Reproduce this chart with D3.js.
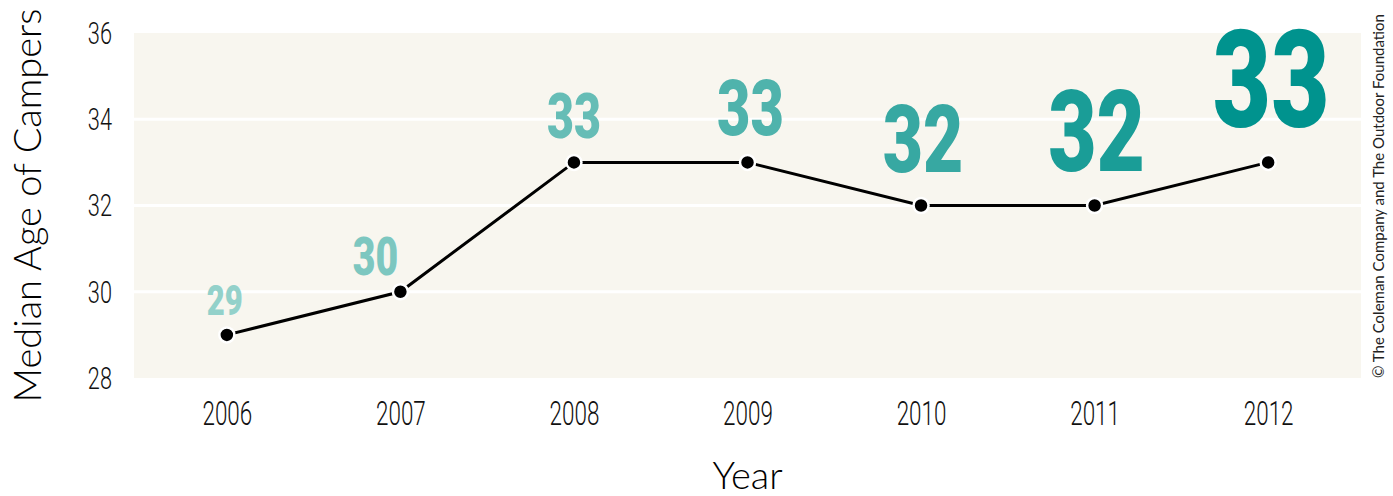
<!DOCTYPE html>
<html>
<head>
    <script src="https://d3js.org/d3.v7.min.js"></script>
    <style>
        body { margin: 0; background: #fff; }
    </style>
</head>
<body>
    <svg width="1393" height="496"></svg>
    <script>

        // data
        var years = ["2006", "2007", "2008", "2009", "2010", "2011", "2012"];
        var medianAge = [29, 30, 33, 33, 32, 32, 33];
        var yTicks = [28, 30, 32, 34, 36];

        // label look (grows year by year)
        var labelSizes = [42, 53, 63, 78, 94, 113, 136];
        var labelGap = [20, 17, 24, 27, 34, 35, 35];
        var labelShift = [-2, -25, 0, 3, 2, 2, 3];
        var labelColors = ["#93d1ca", "#7dc7c0", "#66bdb6", "#4fb3ac", "#37a8a2", "#1a9d97", "#00938e"];

        var svg = d3.select("svg"),
            pLeft = 134, pRight = 1361, pTop = 33, pBottom = 378;

        var x = d3.scalePoint()
                  .domain(years)
                  .range([pLeft, pRight])
                  .padding(0.535);

        var y = d3.scaleLinear()
                  .domain([28, 36])
                  .range([pBottom, pTop]);

        var cond = "Roboto, 'Noto Sans', sans-serif";
        var round = "Lato, 'Open Sans', sans-serif";

        // plot background
        svg.append("rect")
           .attr("x", pLeft).attr("y", pTop)
           .attr("width", pRight - pLeft).attr("height", pBottom - pTop)
           .attr("fill", "#f8f6ef");

        // grid
        svg.append("g")
           .selectAll("line")
           .data(yTicks.filter(function(t) { return t > 28 && t < 36; }))
           .enter().append("line")
           .attr("x1", pLeft).attr("x2", pRight)
           .attr("y1", function(d) { return y(d); })
           .attr("y2", function(d) { return y(d); })
           .attr("stroke", "#fff")
           .attr("stroke-width", 3);

        // y axis
        var yAxis = svg.append("g")
           .attr("transform", "translate(" + (pLeft - 22) + ",0)")
           .call(d3.axisLeft(y).tickValues(yTicks).tickSize(0).tickPadding(0));
        yAxis.select(".domain").remove();
        yAxis.selectAll("text")
             .attr("x", 0)
             .attr("transform", "scale(0.68,1)")
             .style("font-family", cond)
             .style("font-weight", 300)
             .style("font-size", "32px")
             .attr("fill", "#111");

        // x axis
        var xAxis = svg.append("g")
           .attr("transform", "translate(0," + pBottom + ")")
           .call(d3.axisBottom(x).tickSize(0).tickPadding(23));
        xAxis.select(".domain").remove();
        xAxis.selectAll("text")
             .attr("transform", "scale(0.66,1)")
             .style("font-family", cond)
             .style("font-weight", 300)
             .style("font-size", "34px")
             .attr("fill", "#111");

        // line
        var line = d3.line()
                     .x(function(d, i) { return x(years[i]); })
                     .y(function(d) { return y(d); });

        svg.append("path")
           .datum(medianAge)
           .attr("d", line)
           .attr("fill", "none")
           .attr("stroke", "#000")
           .attr("stroke-width", 3);

        svg.append("g")
           .selectAll("circle")
           .data(medianAge)
           .enter().append("circle")
           .attr("cx", function(d, i) { return x(years[i]); })
           .attr("cy", function(d) { return y(d); })
           .attr("r", 7.5)
           .attr("fill", "#000")
           .attr("stroke", "#fff")
           .attr("stroke-width", 2.5);

        // value labels
        svg.append("g")
           .selectAll("g")
           .data(medianAge)
           .enter().append("g")
           .attr("transform", function(d, i) {
                return "translate(" + (x(years[i]) + labelShift[i]) + "," + (y(d) - labelGap[i]) + ")";
           })
           .append("text")
           .attr("transform", "scale(0.74,1)")
           .attr("text-anchor", "middle")
           .style("font-family", cond)
           .style("font-weight", 900)
           .style("font-size", function(d, i) { return labelSizes[i] + "px"; })
           .attr("fill", function(d, i) { return labelColors[i]; })
           .text(function(d) { return d; });

        // axis titles
        svg.append("text")
           .attr("transform", "translate(41," + ((pTop + pBottom) / 2) + ") rotate(-90)")
           .attr("text-anchor", "middle")
           .style("font-family", round)
           .style("font-weight", 300)
           .style("font-size", "38px")
           .attr("fill", "#000")
           .text("Median Age of Campers");

        svg.append("text")
           .attr("x", (pLeft + pRight) / 2)
           .attr("y", 489)
           .attr("text-anchor", "middle")
           .style("font-family", round)
           .style("font-weight", 300)
           .style("font-size", "38px")
           .attr("fill", "#000")
           .text("Year");

        svg.append("text")
           .attr("transform", "translate(1384," + pBottom + ") rotate(-90)")
           .style("font-family", round)
           .style("font-size", "15px")
           .attr("fill", "#222")
           .text("\u00a9 The Coleman Company and The Outdoor Foundation");

    </script>
</body>
</html>
